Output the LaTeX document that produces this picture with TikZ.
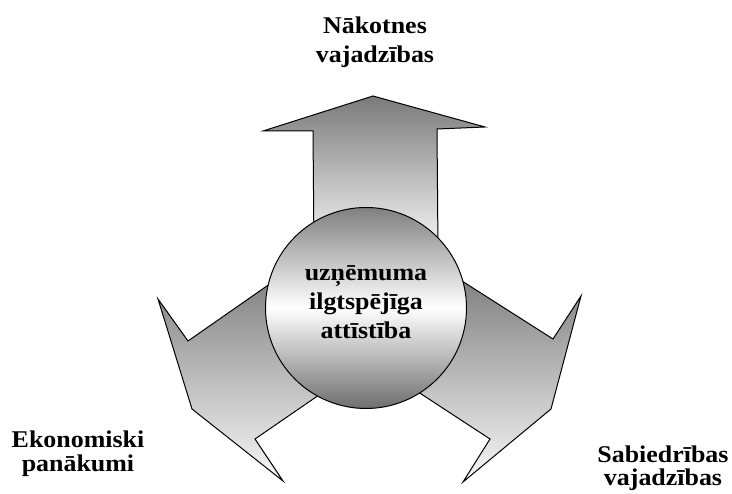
\documentclass[tikz,border=0pt]{standalone}
\usepackage{fontspec}
\setmainfont{Liberation Serif}[FakeStretch=1.08]
\definecolor{ag}{RGB}{122,122,122}
\definecolor{al}{RGB}{248,248,248}
\definecolor{ct}{RGB}{128,128,128}
\definecolor{cb}{RGB}{110,110,110}
\begin{document}
\begin{tikzpicture}[x=1pt,y=-1pt,
  arrowshape/.style={draw=black, line width=1pt, line join=miter, top color=ag, bottom color=al},
  ball/.style={circle, draw=black, line width=1pt, minimum size=201pt, inner sep=0pt, top color=ct, bottom color=cb, middle color=white},
  lbl/.style={align=center, inner sep=0pt, anchor=base, font=\fontsize{24}{29}\selectfont\bfseries},
  lbltwo/.style={lbl, font=\fontsize{24}{24}\selectfont\bfseries}]
\useasboundingbox (0,0) rectangle (732,494);
% arrows
\path[arrowshape] (314,250) -- (313,131) -- (263,131) -- (373,96) -- (485,127) -- (437,129) -- (438,250) -- cycle;
\path[arrowshape] (297,265) -- (188,341) -- (158,299) -- (192,409) -- (283,481) -- (255,439) -- (351,373) -- cycle;
\path[arrowshape] (440,267) -- (553,339) -- (581,296) -- (551,409) -- (463,482) -- (490,439) -- (383,369) -- cycle;
% centre
\node[ball] (c) at (366,308) {};
\node[lbl] (t) at (366,339) {uzņēmuma\\ilgtspējīga\\attīstība};
% labels (anchor = baseline of the last line)
\node[lbl] (n) at (375,63) {Nākotnes\\vajadzības};
\node[lbltwo] (e) at (78,472) {Ekonomiski\\panākumi};
\node[lbltwo] (s) at (663,486) {Sabiedrības\\vajadzības};
\end{tikzpicture}
\end{document}
